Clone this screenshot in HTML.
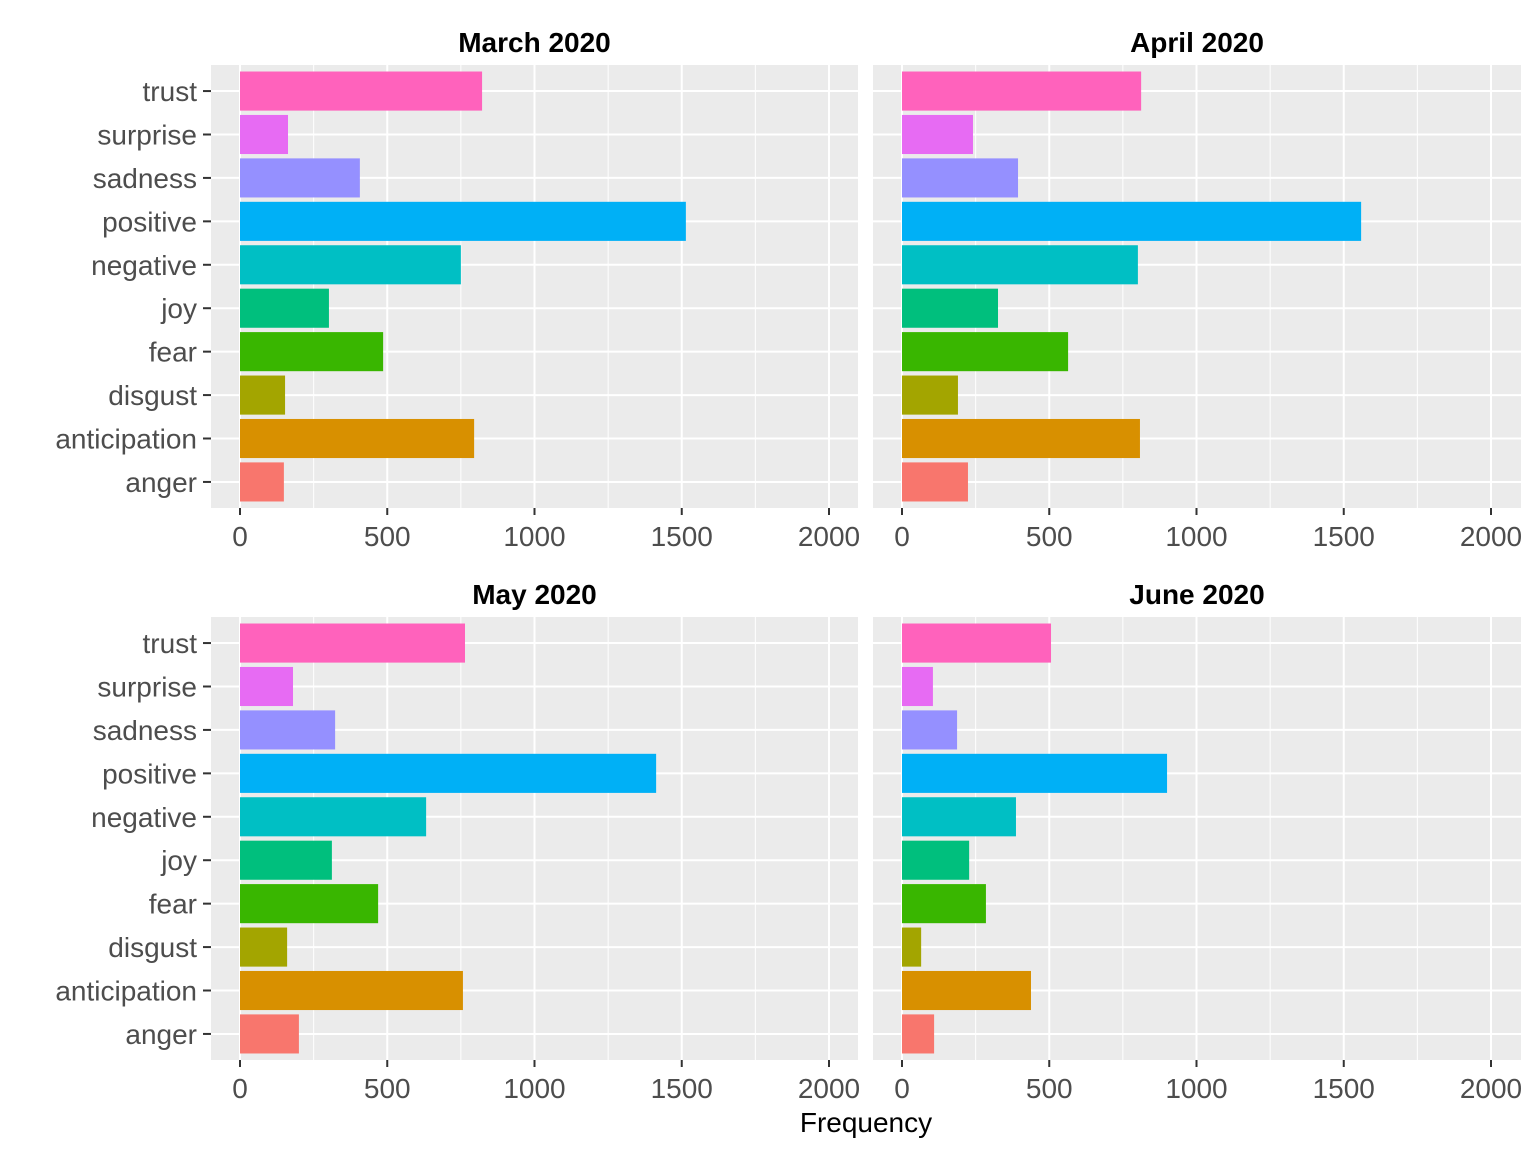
<!DOCTYPE html>
<html><head><meta charset="utf-8"><style>body{margin:0;background:#fff}svg{display:block}text{font-family:"Liberation Sans",Arial,sans-serif}</style></head>
<body>
<svg id="c" width="1536" height="1152" xmlns="http://www.w3.org/2000/svg"></svg>
<script>
const categories=["anger","anticipation","disgust","fear","joy","negative","positive","sadness","surprise","trust"];
const colors=["#F8766D","#D89000","#A3A500","#39B600","#00BF7D","#00BFC4","#00B0F6","#9590FF","#E76BF3","#FF62BC"];
const panelTitles=["March 2020","April 2020","May 2020","June 2020"];
const marchValues=[149,795,153,486,302,750,1514,407,163,822];
const aprilValues=[224,808,190,564,326,801,1559,394,241,812];
const mayValues=[200,757,160,469,312,632,1413,323,180,764];
const juneValues=[109,438,65,285,228,387,900,187,105,506];
const xTicks=[0,500,1000,1500,2000];
const seriesList=[marchValues,aprilValues,mayValues,juneValues];
const svg=document.getElementById('c');
const NS="http://www.w3.org/2000/svg";
function mk(t,a,p){const e=document.createElementNS(NS,t);for(const k in a)e.setAttribute(k,a[k]);(p||svg).appendChild(e);return e;}
const panels=[{x0:211,x1:858,y0:65,y1:508,z:240},{x0:873,x1:1521,y0:65,y1:508,z:902},{x0:211,x1:858,y0:617,y1:1060,z:240},{x0:873,x1:1521,y0:617,y1:1060,z:902}];
const pxPerUnit=589/2000;
panels.forEach((p,i)=>{
  const g=mk('g',{});
  
  
  const xs=v=>p.z+v*pxPerUnit;
  const n=categories.length, step=(p.y1-p.y0)/(n+0.2);
  const ys=k=>p.y0+step*(n-1-k+0.6);
  const left=p.x0<800;
  const bg=mk('rect',{x:p.x0,y:p.y0,width:p.x1-p.x0,height:p.y1-p.y0,fill:'#EBEBEB'},g);
  
  
  for(let t=250;t<2000;t+=500){mk('line',{x1:xs(t),x2:xs(t),y1:p.y0,y2:p.y1,stroke:'#fff','stroke-width':1},g);}
  xTicks.forEach(t=>{mk('line',{x1:xs(t),x2:xs(t),y1:p.y0,y2:p.y1,stroke:'#fff','stroke-width':2},g);});
  categories.forEach((c,k)=>{mk('line',{x1:p.x0,x2:p.x1,y1:ys(k),y2:ys(k),stroke:'#fff','stroke-width':2},g);});
  seriesList[i].forEach((v,k)=>{
    const r=mk('rect',{x:xs(0),y:ys(k)-step*0.45,width:xs(v)-xs(0),height:step*0.9,fill:colors[k]},g);
    
    
  });
  if(left){categories.forEach((c,k)=>{
    mk('line',{x1:p.x0-8,x2:p.x0,y1:ys(k),y2:ys(k),stroke:'#333','stroke-width':2},g);
    const t=mk('text',{x:p.x0-14,y:ys(k)+10,'text-anchor':'end','font-size':28,fill:'#4D4D4D'},g);t.textContent=c;
    
    
  });}
  xTicks.forEach(t=>{
    mk('line',{x1:xs(t),x2:xs(t),y1:p.y1,y2:p.y1+7,stroke:'#333','stroke-width':2},g);
    const tx=mk('text',{x:xs(t),y:p.y1+38,'text-anchor':'middle','font-size':28,fill:'#4D4D4D'},g);tx.textContent=t;
    
    
  });
  const ti=mk('text',{x:(p.x0+p.x1)/2,y:p.y0-13,'text-anchor':'middle','font-size':28,'font-weight':'bold',fill:'#000'},g);
  ti.textContent=panelTitles[i];
  
  
});
const xl=mk('text',{x:866,y:1132,'text-anchor':'middle','font-size':28,fill:'#000'});
xl.textContent='Frequency';


</script>
</body></html>
